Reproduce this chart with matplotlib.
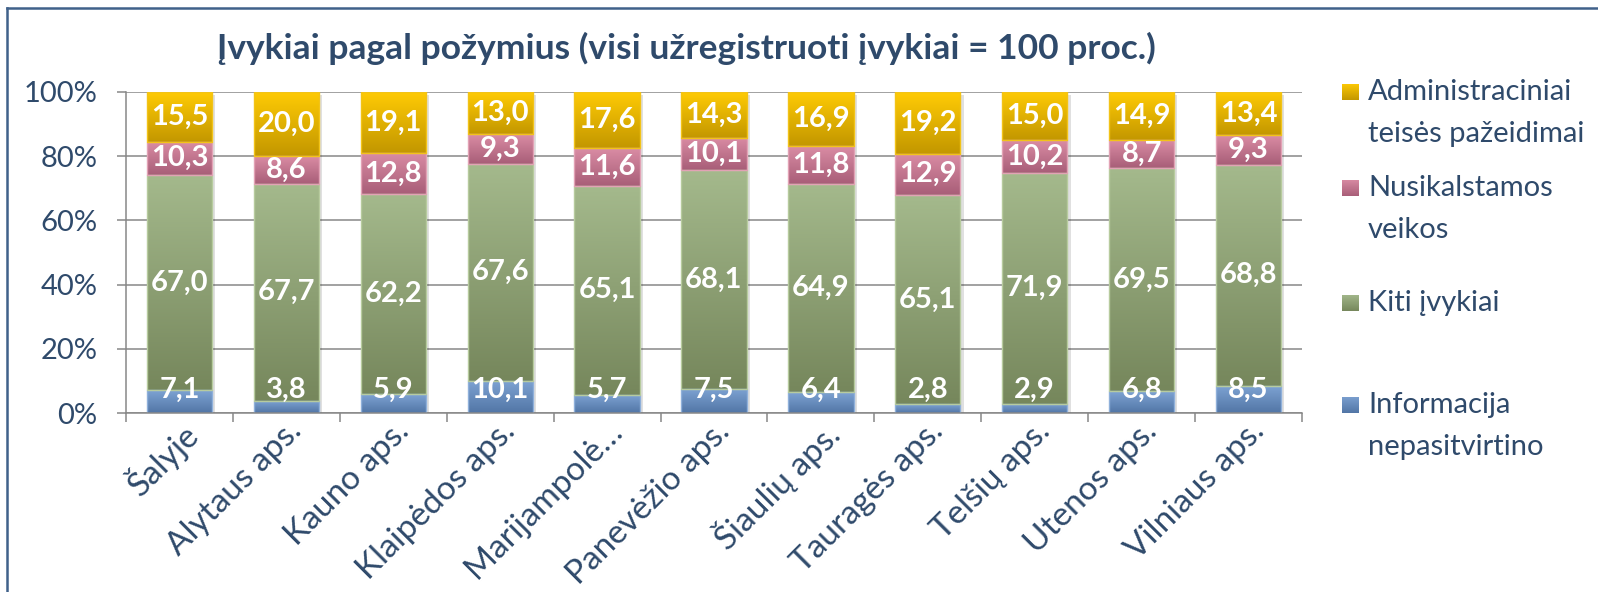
import matplotlib
matplotlib.use("Agg")
import matplotlib.pyplot as plt
import numpy as np
from matplotlib.colors import to_rgb
from matplotlib.patches import Rectangle
from matplotlib.lines import Line2D

plt.rcParams['font.family'] = ['Lato', 'DejaVu Sans']

regions = ['Šalyje', 'Alytaus aps.', 'Kauno aps.', 'Klaipėdos aps.', 'Marijampolė…',
           'Panevėžio aps.', 'Šiaulių aps.', 'Tauragės aps.', 'Telšių aps.',
           'Utenos aps.', 'Vilniaus aps.']
informacija = [7.1, 3.8, 5.9, 10.1, 5.7, 7.5, 6.4, 2.8, 2.9, 6.8, 8.5]
kiti = [67.0, 67.7, 62.2, 67.6, 65.1, 68.1, 64.9, 65.1, 71.9, 69.5, 68.8]
nusikalstamos = [10.3, 8.6, 12.8, 9.3, 11.6, 10.1, 11.8, 12.9, 10.2, 8.7, 9.3]
administraciniai = [15.5, 20.0, 19.1, 13.0, 17.6, 14.3, 16.9, 19.2, 15.0, 14.9, 13.4]

series = [informacija, kiti, nusikalstamos, administraciniai]
names = ['Informacija\nnepasitvirtino', 'Kiti įvykiai', 'Nusikalstamos\nveikos',
         'Administraciniai\nteisės pažeidimai']
# (top colour, bottom colour, edge colour)
grads = [('#7EA3D3', '#5276A6', '#8FB0DA'),
         ('#A4B98C', '#76875C', '#B7CB9E'),
         ('#DA8CA4', '#A85E78', '#E2A2B5'),
         ('#FFCB05', '#C39700', '#F2C318')]

txt = '#2F4A6B'
grid = '#878787'

fig = plt.figure(figsize=(15.98, 5.92), dpi=100)
ax = fig.add_axes([126 / 1598, 1 - 413 / 592, (1302 - 126) / 1598, (413 - 92) / 592])

x = np.arange(len(regions))
w = 0.61
data = np.array(series)
pct = data / data.sum(axis=0) * 100


def gradient(c1, c2, n=64):
    a = np.array(to_rgb(c1))
    b = np.array(to_rgb(c2))
    t = np.linspace(0, 1, n)[:, None]
    return (a * (1 - t) + b * t)[:, None, :]


# shadows
for i in x:
    ax.add_patch(Rectangle((i - w / 2 + 0.03, -1.0), w, 100.0, color='#000000',
                           alpha=0.12, lw=0, zorder=1.5))

bottom = np.zeros(len(regions))
for s, (c1, c2, ec) in enumerate(grads):
    img = gradient(c1, c2)
    for i in x:
        b = bottom[i]
        t = b + pct[s, i]
        ax.imshow(img, extent=[i - w / 2, i + w / 2, b, t], origin='upper',
                  aspect='auto', interpolation='bilinear', zorder=2)
        ax.add_patch(Rectangle((i - w / 2, b), w, pct[s, i], fill=False,
                               edgecolor=ec, lw=1.0, zorder=2.5))
        label = f'{data[s, i]:.1f}'.replace('.', ',')
        ly = 7.3 if s == 0 else b + pct[s, i] / 2
        ax.text(i, ly, label, ha='center', va='center', color='white',
                fontsize=21, fontweight='bold', zorder=4)
    bottom += pct[s]

ax.set_xlim(-0.5, len(regions) - 0.5)
ax.set_ylim(0, 100)
ax.set_yticks(np.arange(0, 101, 20))
ax.set_yticklabels([f'{v}%' for v in range(0, 101, 20)])
ax.yaxis.grid(True, color=grid, lw=1.1)
ax.set_axisbelow(True)
ax.tick_params(axis='y', length=6.5, width=1.1, color=grid, pad=14,
               labelsize=21, labelcolor=txt)

ax.set_xticks(x)
ax.set_xticklabels(regions, rotation=45, ha='right', va='top',
                   rotation_mode='anchor', fontsize=24, color=txt)
ax.set_xticks(np.arange(-0.5, len(regions)), minor=True)
ax.tick_params(axis='x', which='major', length=0, pad=2)
ax.tick_params(axis='x', which='minor', length=6.5, width=1.1, color=grid)

for side in ['top', 'right']:
    ax.spines[side].set_visible(False)
for side in ['left', 'bottom']:
    ax.spines[side].set_color(grid)
    ax.spines[side].set_linewidth(1.1)

fig.text(686 / 1598, 1 - 48 / 592,
         'Įvykiai pagal požymius (visi užregistruoti įvykiai = 100 proc.)',
         ha='center', va='center', fontsize=25.5, fontweight='bold', color=txt)

# legend, top entry first
leg_y = [92, 188, 303, 405]
for k, s in enumerate([3, 2, 1, 0]):
    c1, c2, ec = grads[s]
    yc = leg_y[k]
    lax = fig.add_axes([1342 / 1598, 1 - (yc + 8.5) / 592, 17 / 1598, 17 / 592])
    lax.imshow(gradient(c1, c2), aspect='auto', extent=[0, 1, 0, 1])
    lax.set_axis_off()
    for j, ln in enumerate(names[s].split('\n')):
        fig.text(1368 / 1598, 1 - (yc + j * 42) / 592, ln, ha='left',
                 va='center', fontsize=21, color=txt)

# chart frame
fc = '#40618A'
fig.add_artist(Line2D([7 / 1598, 1], [1 - 8 / 592, 1 - 8 / 592],
                      transform=fig.transFigure, color=fc, lw=1.8))
fig.add_artist(Line2D([7 / 1598, 7 / 1598], [0, 1 - 8 / 592],
                      transform=fig.transFigure, color=fc, lw=1.8))

fig.savefig('out.png', dpi=100)
